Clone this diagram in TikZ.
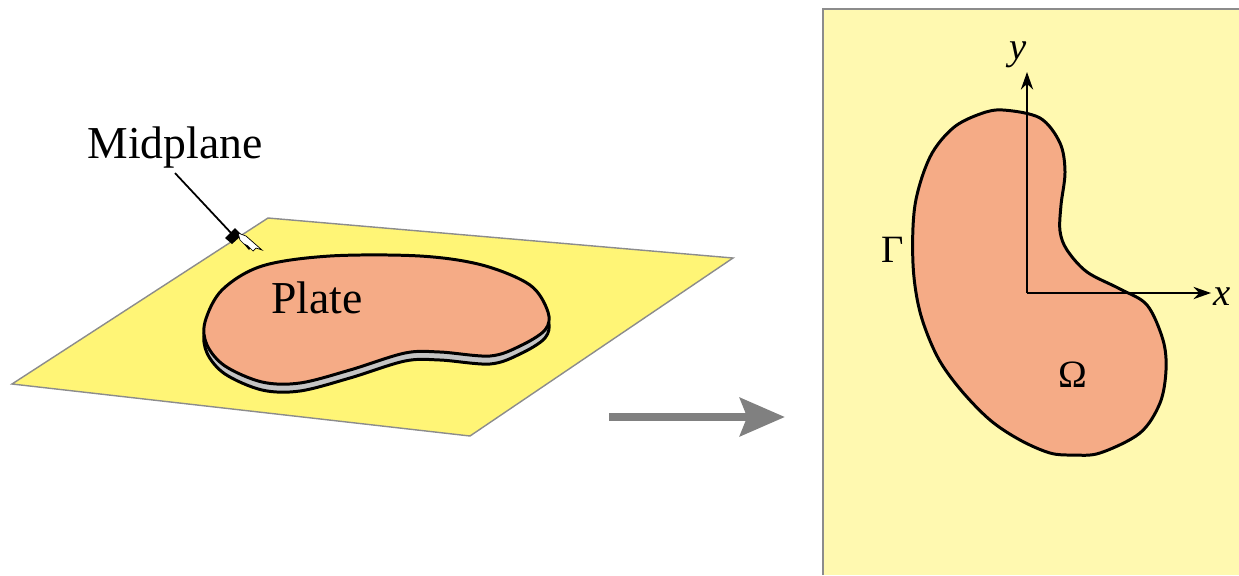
\documentclass[tikz,border=0pt]{standalone}
\usepackage{fontspec}
\setmainfont{Liberation Serif}
\usetikzlibrary{arrows.meta}
\definecolor{planeyellow}{HTML}{FFF576}
\definecolor{panelyellow}{HTML}{FFF9B0}
\definecolor{salmon}{HTML}{F5AB86}
\definecolor{edgegray}{HTML}{8C8C8C}
\definecolor{sidegray}{HTML}{C4C4C4}
\definecolor{arrowgray}{HTML}{808080}
\tikzset{
  lbl/.style={font=\fontsize{26}{30}\selectfont, inner sep=0pt},
  glbl/.style={font=\fontsize{22}{26}\selectfont, inner sep=0pt},
  outline/.style={draw=black, line width=1.7pt, line join=round},
  axis/.style={line width=1.1pt, -{Stealth[length=10pt,width=7pt]}},
}
\begin{document}
\begin{tikzpicture}[x=0.02cm,y=-0.02cm]
\useasboundingbox (0,0) rectangle (1239,575);

% midplane sheet
\filldraw[fill=planeyellow, draw=edgegray, line width=0.8pt]
  (268,218) -- (733,258) -- (470,436) -- (12,384) -- cycle;

% plate: thickness band, then top face
\def\platepath{plot[smooth cycle, tension=0.55] coordinates {
  (205,322) (222,290) (262,266) (330,256) (420,256) (482,265)
  (530,285) (548,312) (545,330) (520,346) (490,356) (440,352)
  (405,353) (350,370) (300,383) (262,382) (225,366) (207,345)}}
\begin{scope}[yshift=-0.16cm]
  \path[outline, fill=sidegray] \platepath;
\end{scope}
\path[outline, fill=salmon] \platepath;
\node[lbl] (plate) at (317,298) {Plate};

% label with leader line and pointing hand
\node[lbl] (mid) at (175,148) {Midplane};
\coordinate (hand) at (232,234);
\draw[line width=1pt] (mid.south) ++(0,4) -- (hand);
\fill[black] (225,238) -- (235,228) -- (242,235) -- (232,244) -- cycle;
\fill[black] (243,243) -- (249,250) -- (252,246) -- cycle;
\filldraw[fill=white, draw=black, line width=0.4pt]
  (238,233) -- (246,236) -- (262,250) -- (256,248) -- (253,251)
  -- (248,246) -- (244,244) -- (240,240) -- cycle;

% transition arrow
\coordinate (arrS) at (609,417);
\coordinate (arrE) at (785,417);
\draw[arrowgray, line width=5.1pt,
  -{Stealth[length=25.5pt,width=21.5pt,inset=4pt]}] (arrS) -- (arrE);

% plane view panel
\fill[panelyellow] (823,9) rectangle (1239,575);
\draw[edgegray, line width=0.8pt] (823,575) -- (823,9) -- (1239,9);

% domain
\path[outline, fill=salmon] plot[smooth cycle, tension=0.55] coordinates {
  (1003,110) (1040,118) (1060,143) (1065,172) (1061,205) (1060,231)
  (1067,250) (1087,272) (1120,289) (1147,305) (1163,340) (1166,370)
  (1160,403) (1140,433) (1100,453) (1073,455) (1050,453) (1020,440)
  (990,420) (960,389) (937,356) (920,312) (913,264) (915,205)
  (930,157) (953,128) (980,114)};

% coordinate axes
\coordinate (O) at (1027,293);
\coordinate (xe) at (1211,293);
\coordinate (ye) at (1027,72);
\draw[axis] (O) -- (xe);
\draw[axis] (O) -- (ye);
\node[glbl] (xl) at (1222,297) {\textit{x}};
\node[glbl] (yl) at (1018,55) {\textit{y}};
\node[glbl] (gam) at (893,250) {Γ};
\node[glbl] (om) at (1073,375) {Ω};
\end{tikzpicture}
\end{document}
